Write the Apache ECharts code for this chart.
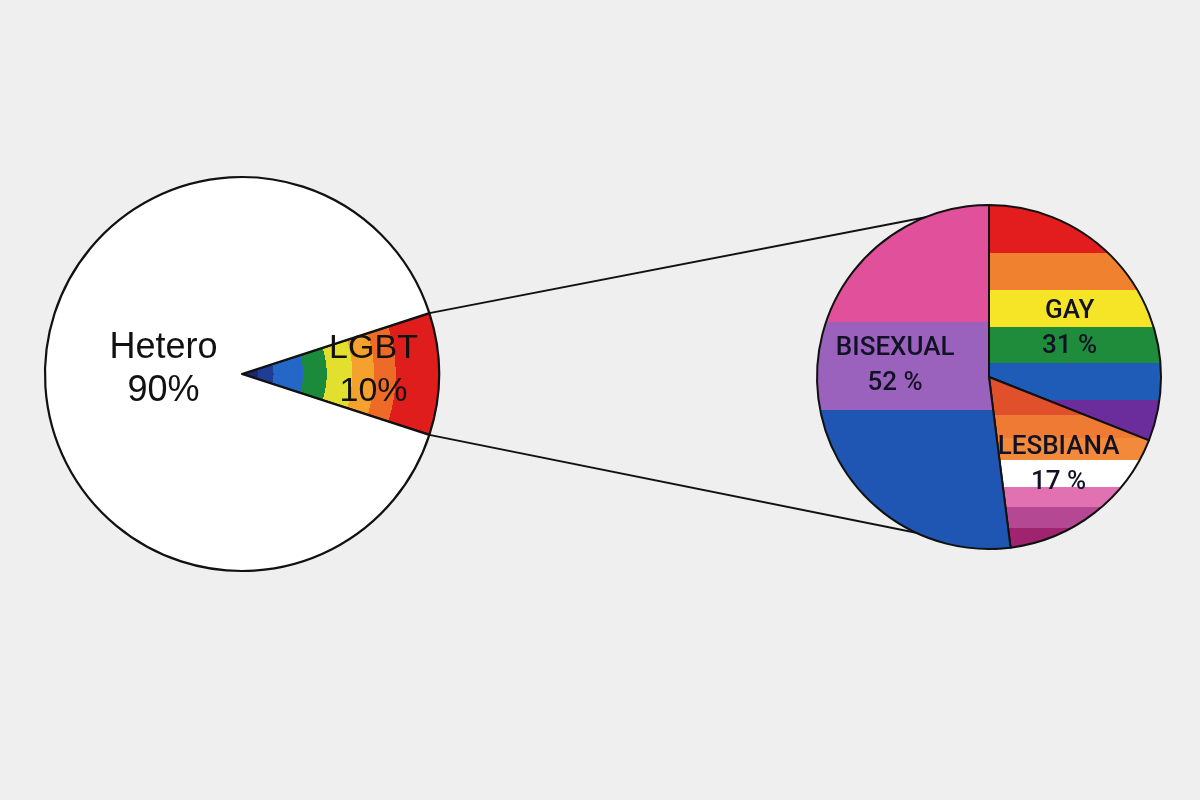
<!DOCTYPE html>
<html>
<head>
<meta charset="utf-8">
<script src="https://cdn.jsdelivr.net/npm/echarts@6/dist/echarts.min.js"></script>
<style>
  html, body { margin: 0; padding: 0; background: #efefef; }
  #chart { width: 1200px; height: 800px; }
</style>
</head>
<body>
<div id="chart"></div>
<script>
// ---- data ----
const mainNames = ['LGBT', 'Hetero'];
const mainValues = [10, 90];
const subNames = ['GAY', 'LESBIANA', 'BISEXUAL'];
const subValues = [31, 17, 52];

// ---- layout ----
const L = { cx: 242, cy: 374, r: 197 };
const R = { cx: 989, cy: 377, r: 172 };

const mainTotal = mainValues.reduce((a, b) => a + b, 0);
const halfAngle = 360 * mainValues[0] / mainTotal / 2; // LGBT wedge centred on 3 o'clock

function bands(list) {
  const stops = [];
  let start = 0;
  list.forEach(([end, c]) => {
    stops.push({ offset: start, color: c });
    stops.push({ offset: end, color: c });
    start = end;
  });
  return stops;
}
function vStripes(list) {
  return { type: 'linear', x: 0, y: R.cy - R.r, x2: 0, y2: R.cy + R.r, global: true, colorStops: bands(list) };
}

const rainbowRadial = {
  type: 'radial', x: L.cx, y: L.cy, r: L.r, global: true,
  colorStops: bands([
    [0.08, '#1a2768'], [0.16, '#1f3d95'], [0.31, '#2467c6'], [0.43, '#1b8a3b'],
    [0.56, '#e3df2e'], [0.67, '#f4a12d'], [0.78, '#ed6b27'], [1.0, '#e01d1d']
  ])
};

const subColors = {
  GAY: vStripes([[0.14, '#e31d1d'], [0.247, '#f0812f'], [0.355, '#f6e526'], [0.459, '#1e8c3b'], [0.567, '#1f5cb8'], [1, '#6a2d9b']]),
  LESBIANA: vStripes([[0.61, '#e0512b'], [0.677, '#ee7a33'], [0.741, '#f38a3b'], [0.82, '#ffffff'], [0.878, '#e171b1'], [0.939, '#b44893'], [1, '#a0236f']]),
  BISEXUAL: vStripes([[0.34, '#e1519b'], [0.596, '#9a62bc'], [1, '#1f56b3']])
};
const mainColors = { LGBT: rainbowRadial, Hetero: '#ffffff' };

const labelShift = {
  LGBT: [30, -4], Hetero: [23, -4],
  GAY: [7, 2], LESBIANA: [15, 18], BISEXUAL: [-5, -17]
};

const rad = Math.PI / 180;
const p1 = [L.cx + L.r * Math.cos(halfAngle * rad), L.cy - L.r * Math.sin(halfAngle * rad)];
const p2 = [L.cx + L.r * Math.cos(halfAngle * rad), L.cy + L.r * Math.sin(halfAngle * rad)];
const q1 = [R.cx, R.cy - R.r];
const q2 = [R.cx + 8, R.cy + R.r];

const chart = echarts.init(document.getElementById('chart'));
chart.setOption({
  backgroundColor: '#efefef',
  animation: false,
  graphic: [
    { type: 'line', z: 0, shape: { x1: p1[0], y1: p1[1], x2: q1[0], y2: q1[1] }, style: { stroke: '#111', lineWidth: 2 } },
    { type: 'line', z: 0, shape: { x1: p2[0], y1: p2[1], x2: q2[0], y2: q2[1] }, style: { stroke: '#111', lineWidth: 2 } }
  ],
  series: [
    {
      type: 'pie',
      center: [L.cx, L.cy],
      radius: [0, L.r],
      startAngle: halfAngle,
      clockwise: true,
      avoidLabelOverlap: false,
      emphasis: { disabled: true },
      itemStyle: { borderColor: '#111', borderWidth: 2.2 },
      label: {
        show: true, position: 'inside', formatter: '{b}\n{c}%',
        fontFamily: 'Liberation Sans', fontSize: 36, lineHeight: 43, color: '#111'
      },
      labelLine: { show: false },
      labelLayout: p => { const s = labelShift[mainNames[p.dataIndex]]; return { dx: s[0], dy: s[1] }; },
      data: mainNames.map((n, i) => ({
        name: n, value: mainValues[i],
        itemStyle: { color: mainColors[n] },
        label: n === 'LGBT' ? { fontSize: 34 } : {}
      }))
    },
    {
      type: 'pie',
      center: [R.cx, R.cy],
      radius: [0, R.r],
      startAngle: 90,
      clockwise: true,
      avoidLabelOverlap: false,
      emphasis: { disabled: true },
      itemStyle: { borderColor: '#111', borderWidth: 2 },
      label: {
        show: true, position: 'inside', formatter: '{b}\n{c} %',
        fontFamily: 'Roboto', fontWeight: 500, fontSize: 26, lineHeight: 35, color: '#121226'
      },
      labelLine: { show: false },
      labelLayout: p => { const s = labelShift[subNames[p.dataIndex]]; return { dx: s[0], dy: s[1] }; },
      data: subNames.map((n, i) => ({
        name: n, value: subValues[i],
        itemStyle: { color: subColors[n] }
      }))
    }
  ]
});
</script>
</body>
</html>
